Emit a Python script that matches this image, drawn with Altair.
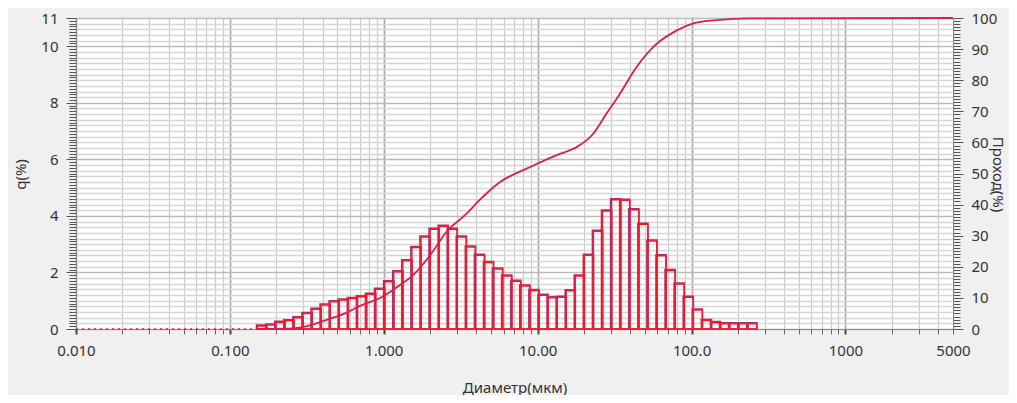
import altair as alt
import pandas as pd

# ---- data ----
# histogram channel edges (µm)
bin_edges = [0.1512, 0.1733, 0.1985, 0.2274, 0.2604, 0.2983, 0.3417, 0.3914, 0.4483, 0.5136,
             0.5883, 0.6739, 0.7720, 0.8844, 1.013, 1.161, 1.329, 1.523, 1.745, 1.998,
             2.289, 2.622, 3.003, 3.440, 3.941, 4.514, 5.169, 5.922, 6.783, 7.770,
             8.902, 10.20, 11.68, 13.38, 15.33, 17.56, 20.11, 23.04, 26.39, 30.23,
             34.63, 39.67, 45.44, 52.05, 59.63, 68.31, 78.23, 89.61, 102.7, 117.6,
             134.7, 154.3, 176.7, 202.5, 231.9, 265.7]
# q (%) per channel
q_values = [0.10, 0.14, 0.24, 0.29, 0.40, 0.55, 0.70, 0.85, 0.96, 1.02,
            1.08, 1.14, 1.23, 1.40, 1.67, 2.02, 2.41, 2.88, 3.25, 3.53,
            3.63, 3.53, 3.25, 2.90, 2.61, 2.35, 2.12, 1.87, 1.69, 1.52,
            1.36, 1.19, 1.10, 1.12, 1.35, 1.87, 2.61, 3.46, 4.17, 4.57,
            4.55, 4.22, 3.70, 3.11, 2.59, 2.07, 1.59, 1.12, 0.67, 0.30,
            0.23, 0.18, 0.18, 0.18, 0.18]
# cumulative passing curve (µm, %)
cum_diam = [0.151, 0.26, 0.34, 0.435, 0.56, 0.72, 0.94, 1.27, 1.55, 2.0, 2.55, 3.44, 4.2,
            5.67, 8.87, 13.9, 17.8, 22.9, 27.9, 34.1, 43.7, 59.0, 75.6, 102, 145, 238, 5000]
cum_pass = [0, 0.2, 1.3, 3.1, 5.0, 7.7, 9.9, 14.1, 17.3, 23.7, 31.2, 37.0, 41.5,
            47.2, 52.0, 56.3, 58.4, 62.7, 69.1, 75.5, 84.1, 91.6, 95.3, 98.2, 99.3, 99.9, 100]
# zero segment (dotted) before first channel
zero_diam = [0.01, 0.1512]
zero_q = [0, 0]

# axis ticks / labels
x_major = [0.01, 0.1, 1, 10, 100, 1000, 5000]
x_major_text = ["0.010", "0.100", "1.000", "10.00", "100.0", "1000", "5000"]
x_ticks = [v for v in (float(f"{m}e{e}") for e in range(-2, 4) for m in range(1, 10)) if v <= 5000]
left_major = [0, 2, 4, 6, 8, 10, 11]
left_ticks = [round(i * 0.1, 1) for i in range(0, 111)]
right_ticks = list(range(0, 101))

bars_df = pd.DataFrame({"lo": bin_edges[:-1], "hi": bin_edges[1:], "q": q_values})
cum_df = pd.DataFrame({"d": cum_diam, "p": cum_pass})
zero_df = pd.DataFrame({"d": zero_diam, "q": zero_q})

FONT = "Noto Sans"
TXT = "#333333"
LBL = 15

xscale = alt.Scale(type="log", domain=[0.01, 5000], nice=False)
lscale = alt.Scale(domain=[0, 11], nice=False, zero=True)
rscale = alt.Scale(domain=[0, 100], nice=False)

xmaj_test = "indexof(" + str(x_major[:-1]) + ", datum.value) >= 0"
label_expr = " : ".join(
    f"datum.value == {v} ? '{t}'" for v, t in zip(x_major, x_major_text)
) + " : ''"

x_axis = alt.Axis(
    values=x_ticks, tickCount=1000, labelExpr=label_expr, labelOverlap=False, labelFlush=False,
    tickSize=5, tickColor={"condition": {"test": xmaj_test, "value": "#444444"}, "value": "#666666"},
    tickWidth={"condition": {"test": xmaj_test, "value": 2}, "value": 1},
    grid=True,
    gridColor={"condition": {"test": xmaj_test, "value": "#a6a6a6"}, "value": "#cacaca"},
    gridWidth={"condition": {"test": xmaj_test, "value": 1.6}, "value": 1.2},
    domainColor="#8a8a8a", labelFont=FONT, labelFontSize=LBL, labelColor=TXT, labelPadding=9,
    title="Диаметр(мкм)", titleFont=FONT, titleFontSize=15, titleFontWeight="normal",
    titleColor=TXT, titleX=438.5, titleY=58, titleAlign="center", titleBaseline="middle",
)

lmaj_test = "indexof(" + str(left_major) + ", datum.value) >= 0"
y_left_axis = alt.Axis(
    orient="left", values=left_ticks, tickCount=1000,
    labelExpr=lmaj_test + " ? ('' + round(datum.value)) : ''", labelOverlap=False, labelFlush=False,
    tickSize={"condition": {"test": lmaj_test, "value": 10}, "value": 7},
    tickColor="#555555", tickWidth=1,
    grid=True,
    gridColor={"condition": {"test": lmaj_test, "value": "#bcbcbc"}, "value": "#d6d6d6"},
    gridOpacity={"condition": {"test": "round(datum.value * 10) % 2 != 0", "value": 0}, "value": 1},
    gridWidth=1.3,
    domainColor="#8a8a8a", labelFont=FONT, labelFontSize=LBL, labelColor=TXT, labelPadding=8,
    title="q(%)", titleFont=FONT, titleFontSize=15, titleFontWeight="normal", titleColor=TXT,
    titleAngle=270, titleX=-56, titleY=156, titleAlign="center", titleBaseline="middle",
)

rmaj_test = "datum.value % 10 == 0"
y_right_axis = alt.Axis(
    orient="right", values=right_ticks, tickCount=1000,
    labelExpr=rmaj_test + " ? ('' + round(datum.value)) : ''", labelOverlap=False, labelFlush=False,
    tickSize={"condition": {"test": rmaj_test, "value": 10}, "value": 7},
    tickColor="#555555", tickWidth=1, grid=False,
    domainColor="#8a8a8a", labelFont=FONT, labelFontSize=LBL, labelColor=TXT, labelPadding=8,
    title="Проход(%)", titleFont=FONT, titleFontSize=15, titleFontWeight="normal", titleColor=TXT,
    titleAngle=90, titleX=44, titleY=156, titleAlign="center", titleBaseline="middle",
)

# first layer carries the axes
bars_shadow = alt.Chart(bars_df).mark_rect(
    fillOpacity=0, stroke="#a8326e", strokeWidth=1.6, xOffset=-1, yOffset=-1
).encode(
    x=alt.X("lo:Q", scale=xscale, axis=x_axis),
    x2="hi:Q",
    y=alt.Y("q:Q", scale=lscale, axis=y_left_axis),
    y2=alt.Y2(datum=0),
)

bars = alt.Chart(bars_df).mark_rect(
    fillOpacity=0, stroke="#ff1426", strokeWidth=1.4
).encode(
    x=alt.X("lo:Q", scale=xscale),
    x2="hi:Q",
    y=alt.Y("q:Q", scale=lscale),
    y2=alt.Y2(datum=0),
)

zero_line = alt.Chart(zero_df).mark_line(
    color="#ff1a1a", strokeDash=[2, 4], strokeWidth=1.3
).encode(
    x=alt.X("d:Q", scale=xscale),
    y=alt.Y("q:Q", scale=lscale),
)

left = alt.layer(bars_shadow, bars, zero_line)

curve = alt.Chart(cum_df).mark_line(
    color="#d81e4e", strokeWidth=1.8, interpolate="monotone"
).encode(
    x=alt.X("d:Q", scale=xscale),
    y=alt.Y("p:Q", scale=rscale, axis=y_right_axis),
)

chart = alt.layer(left, curve).resolve_scale(y="independent").properties(
    width=877, height=311,
    autosize=alt.AutoSizeParams(type="none"),
    padding={"left": 68, "top": 10, "right": 56, "bottom": 66},
    background="#f0f0f0",
).configure_view(fill="white", stroke=None)

chart.save("out.html", embed_options={"renderer": "svg", "actions": False})
